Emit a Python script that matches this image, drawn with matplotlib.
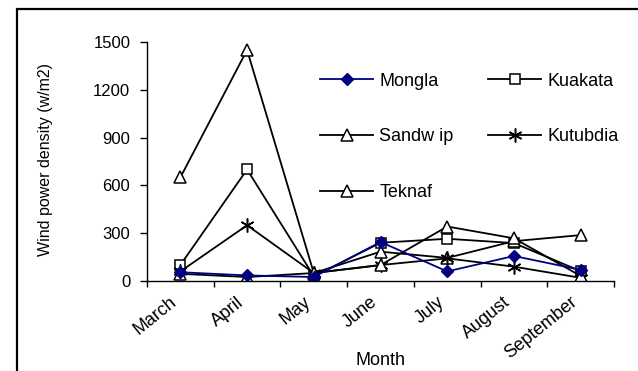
import matplotlib
matplotlib.use("Agg")
import matplotlib.pyplot as plt
from matplotlib.patches import Rectangle
import numpy as np

months = ["March", "April", "May", "June", "July", "August", "September"]
mongla = [55, 35, 25, 245, 60, 157, 70]
kuakata = [100, 700, 30, 240, 265, 238, 62]
sandwip = [45, 25, 50, 184, 145, 250, 288]
kutubdia = [60, 350, 50, 100, 142, 90, 20]
teknaf = [650, 1450, 50, 100, 342, 268, 32]
yticks = [0, 300, 600, 900, 1200, 1500]

plt.rcParams['font.family'] = ['Liberation Sans', 'DejaVu Sans']

W, H = 638, 371
fig = plt.figure(figsize=(W/100, H/100), dpi=100)
fig.patch.set_facecolor('white')
# outer chart border
fig.patches.append(Rectangle((17/W, -0.05), 1.2, 1 - 9/H + 0.05,
                             transform=fig.transFigure, fill=False,
                             edgecolor='black', linewidth=1.6))

ax = fig.add_axes([147/W, 1 - 281/H, (614-147)/W, (281-42)/H])
x = np.arange(len(months))

lw = 1.3
ax.plot(x, kuakata, color='black', lw=lw, marker='s', ms=7, mfc='white', mec='black', mew=1.1, label='Kuakata')
ax.plot(x, sandwip, color='black', lw=lw, marker='^', ms=8.5, mfc='white', mec='black', mew=1.1, label='Sandw ip')
ax.plot(x, kutubdia, color='black', lw=lw, marker=(6, 2, 0), ms=10, mec='black', mew=1.1, label='Kutubdia')
ax.plot(x, teknaf, color='black', lw=lw, marker='^', ms=8.5, mfc='white', mec='black', mew=1.1, label='Teknaf')
ax.plot(x, mongla, color='#000080', lw=lw, marker='D', ms=6, mfc='#000080', mec='#000080', label='Mongla')

ax.set_xlim(-0.5, len(months) - 0.5)
ax.set_ylim(0, 1500)
ax.set_yticks(yticks)
ax.set_yticklabels([str(v) for v in yticks], fontsize=12)
ax.set_xticks(x)
ax.set_xticklabels(months, rotation=39, ha='right', va='top', fontsize=13)
ax.set_xticks(np.arange(-0.5, len(months), 1.0), minor=True)
ax.tick_params(axis='x', which='major', length=0, pad=9)
ax.tick_params(axis='x', which='minor', length=4.5, direction='out', width=1)
ax.tick_params(axis='y', length=5, direction='out', width=1, pad=7)

for s in ['top', 'right']:
    ax.spines[s].set_visible(False)
for s in ['left', 'bottom']:
    ax.spines[s].set_linewidth(1)

fig.text(381/W, 1 - 365/H, 'Month', ha='center', va='baseline', fontsize=13)
fig.text(46/W, 1 - 159/H, 'Wind power density (w/m2)', ha='center', va='center',
         rotation=90, fontsize=11.5)

handles, labels = ax.get_legend_handles_labels()
hmap = dict(zip(labels, handles))
col1 = ['Mongla', 'Sandw ip', 'Teknaf']
col2 = ['Kuakata', 'Kutubdia']
common = dict(loc='upper left', frameon=False, fontsize=13, handlelength=2.94,
              handletextpad=0.35, labelspacing=2.15, borderaxespad=0, borderpad=0,
              bbox_transform=fig.transFigure)
leg1 = ax.legend([hmap[o] for o in col1], col1, bbox_to_anchor=(320/W, 1 - 72.5/H), **common)
ax.add_artist(leg1)
ax.legend([hmap[o] for o in col2], col2, bbox_to_anchor=(488/W, 1 - 72.5/H), **common)

fig.savefig('out.png', dpi=100, facecolor='white')
